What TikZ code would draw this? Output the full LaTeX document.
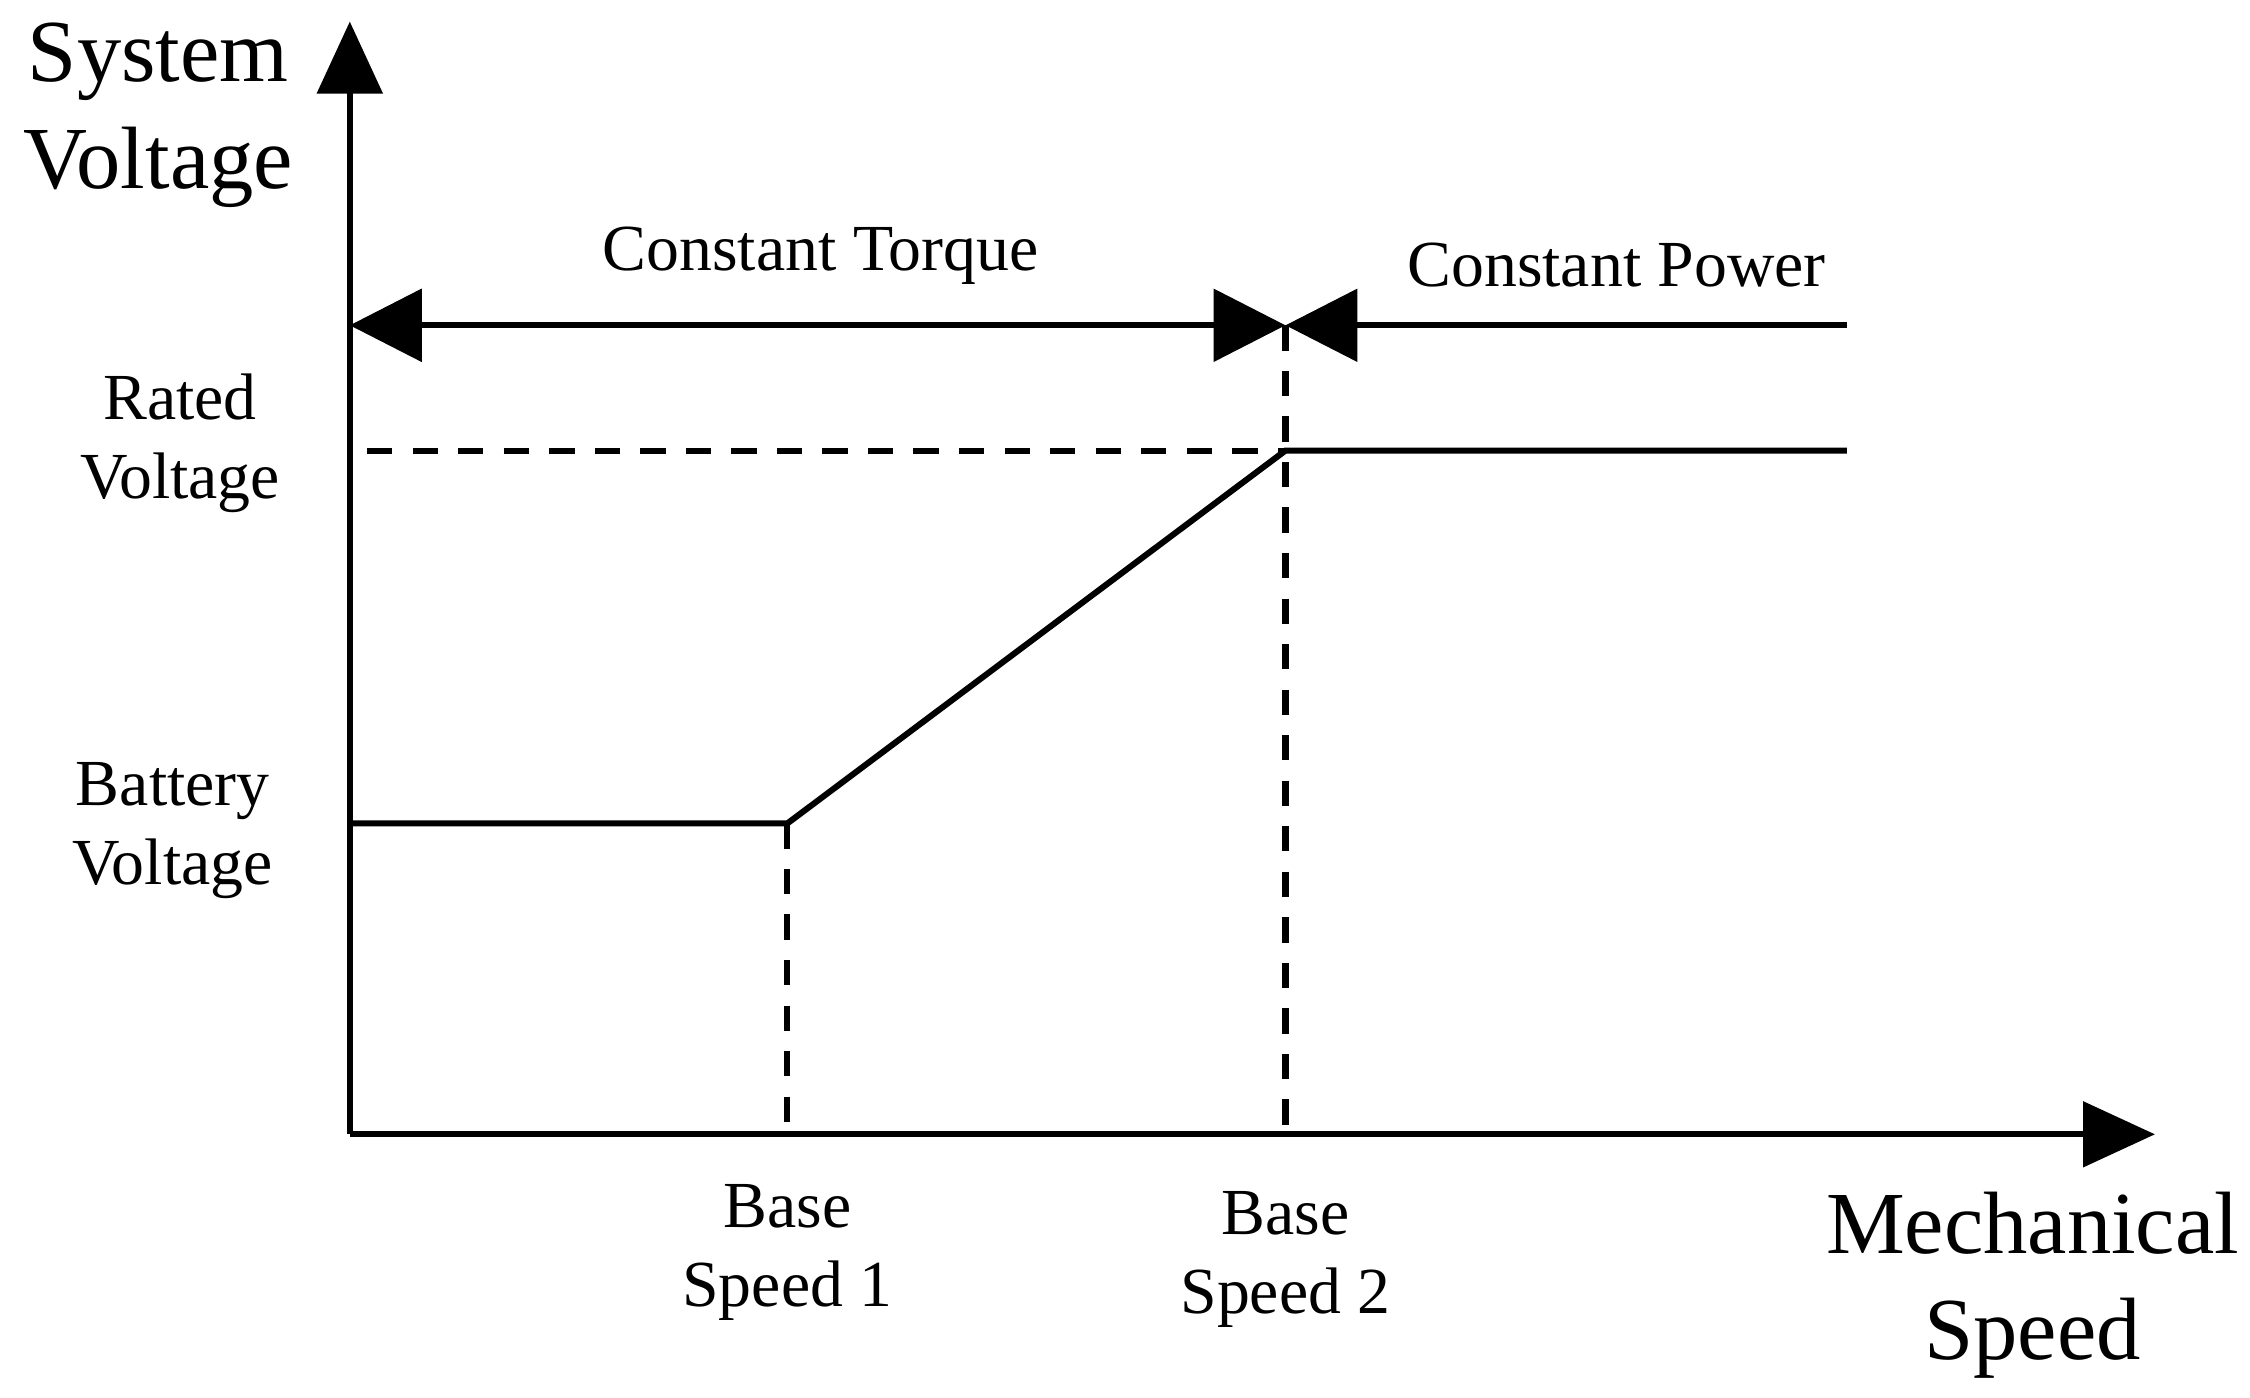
\documentclass[tikz,border=0pt]{standalone}
\usepackage{fontspec}
\setmainfont{Liberation Serif}
\usetikzlibrary{arrows.meta}
\tikzset{
  axis/.style={line width=1.2pt,-{Triangle[length=0.5cm,width=0.45cm]}},
  curve/.style={line width=1.2pt},
  guide/.style={line width=1.2pt,dash pattern=on 5pt off 4pt},
  lbl/.style={align=center,font=\fontsize{13}{15.5}\selectfont},
  big/.style={align=center,font=\fontsize{17.5}{21}\selectfont}
}
\begin{document}
\begin{tikzpicture}
        \useasboundingbox (0,0) rectangle (15.63,9.71);
        % Named points
        \coordinate (O) at (2.43,1.83);
        \coordinate (ytop) at (2.43,9.56);
        \coordinate (xend) at (14.97,1.83);
        \coordinate (bat0) at (2.43,3.99);
        \coordinate (b1) at (5.47,3.99);
        \coordinate (b2) at (8.93,6.58);
        \coordinate (rat0) at (2.55,6.58);
        \coordinate (ratend) at (12.83,6.58);
        \coordinate (b1x) at (5.47,1.83);
        \coordinate (b2x) at (8.93,1.83);
        \coordinate (ct0) at (2.43,7.45);
        \coordinate (ct1) at (8.93,7.45);
        \coordinate (cpend) at (12.83,7.45);

        % Draw axes
        \draw[axis] (O) -- (ytop);
        \draw[axis] (O) -- (xend);

        % Voltage curve
        \draw[curve] (bat0) -- (b1) -- (b2) -- (ratend);

        % Guide lines
        \draw[guide] (rat0) -- (b2);
        \draw[guide] (b1) -- (b1x);
        \draw[guide] (ct1) -- (b2x);

        % Region arrows
        \draw[curve,{Triangle[length=0.5cm,width=0.5cm]}-{Triangle[length=0.5cm,width=0.5cm]}] (ct0) -- (ct1);
        \draw[curve,-{Triangle[length=0.5cm,width=0.5cm]}] (cpend) -- (ct1);

        % Labels
        \node[big] (sv) at (1.10,8.91) {System\\Voltage};
        \node[big] (ms) at (14.12,0.78) {Mechanical\\Speed};
        \node[lbl] (rv) at (1.25,6.63) {Rated\\Voltage};
        \node[lbl] (bv) at (1.20,3.94) {Battery\\Voltage};
        \node[lbl] (bs1) at (5.47,1.01) {Base\\Speed 1};
        \node[lbl] (bs2) at (8.93,0.96) {Base\\Speed 2};
        \node[lbl] (ctl) at (5.70,7.93) {Constant Torque};
        \node[lbl] (cpl) at (11.23,7.87) {Constant Power};
    \end{tikzpicture}
\end{document}
